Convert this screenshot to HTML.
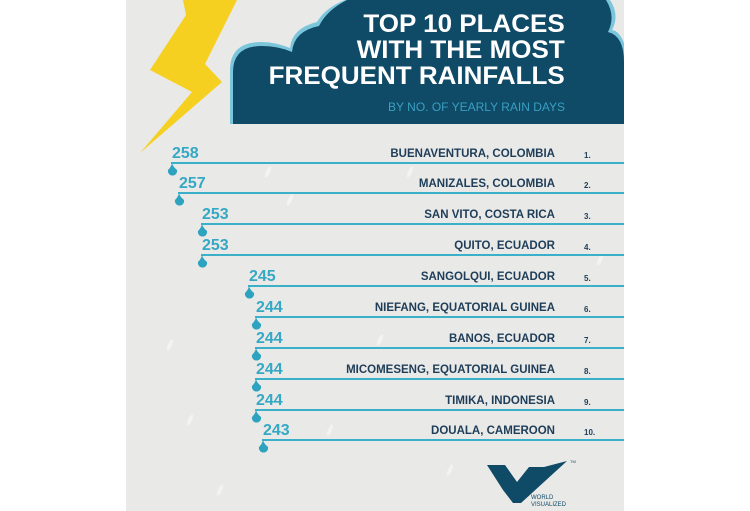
<!DOCTYPE html>
<html><head><meta charset="utf-8"><style>
body{margin:0;width:750px;height:511px;background:#fff;position:relative;overflow:hidden;font-family:"Liberation Sans",sans-serif}
#panel{position:absolute;left:126px;top:0;width:498px;height:511px;background:#e9e9e8}
.t{position:absolute;font-weight:bold;white-space:nowrap}
</style></head><body>
<div id="panel"></div>
<svg width="750" height="511" style="position:absolute;left:0;top:0">
<defs><clipPath id="c"><rect x="126" y="0" width="498" height="511"/></clipPath></defs>
<g clip-path="url(#c)">
<g fill="#f4f4f3" opacity="0.9">
<ellipse cx="268" cy="172" rx="2" ry="6" transform="rotate(25 268 172)"/>
<ellipse cx="290" cy="200" rx="2" ry="6" transform="rotate(25 290 200)"/>
<ellipse cx="410" cy="172" rx="2" ry="6" transform="rotate(25 410 172)"/>
<ellipse cx="380" cy="340" rx="2" ry="6" transform="rotate(25 380 340)"/>
<ellipse cx="170" cy="345" rx="2" ry="6" transform="rotate(25 170 345)"/>
<ellipse cx="190" cy="420" rx="2" ry="6" transform="rotate(25 190 420)"/>
<ellipse cx="330" cy="430" rx="2" ry="6" transform="rotate(25 330 430)"/>
<ellipse cx="450" cy="470" rx="2" ry="6" transform="rotate(25 450 470)"/>
<ellipse cx="220" cy="490" rx="2" ry="6" transform="rotate(25 220 490)"/>
<ellipse cx="600" cy="260" rx="2" ry="6" transform="rotate(25 600 260)"/>
</g>
<path d="M230,124 L230,70 Q230,42 262,42 Q275,42 290,48 Q292,28 317,22 Q325,8 345,0 L610,0 Q620,15 612,30 Q624,32 628,60 L628,124 Z" fill="#7cc6dc"/>
<path d="M233,124 L233,72 Q233,46 262,46 Q278,46 292,52 Q294,31 319,26 Q327,10 347,0 L606,0 Q616,16 608,32 Q624,36 624,62 L624,124 Z" fill="#0f4a66"/>
<polygon points="183,0 237,0 205,64 222,82 140,153 192,92 150,70 186,15" fill="#f6d020"/>
</g>
</svg>
<div class="t" style="right:185px;top:11px;font-size:25px;line-height:26px;color:#fff;text-align:right;transform:scaleX(1.04);transform-origin:right">TOP 10 PLACES<br>WITH THE MOST<br>FREQUENT RAINFALLS</div>
<div class="t" style="right:185px;top:100px;font-size:12px;color:#3a9fc2;font-weight:normal">BY NO. OF YEARLY RAIN DAYS</div>
<div id="rows"></div>
<svg width="750" height="511" style="position:absolute;left:0;top:0">
<polygon points="487,465 505,465 517,482 529,467 544,467 567,461 521,503 513,503 503,490" fill="#0f4a66"/>
<text x="570" y="463" font-size="4" fill="#0f4a66">TM</text>
<text x="531" y="499" font-size="6" fill="#0f4a66" font-family="Liberation Sans">WORLD</text>
<text x="531" y="506" font-size="6" fill="#0f4a66" font-family="Liberation Sans">VISUALIZED</text>
</svg>
<script>
var d=[[258,"BUENAVENTURA, COLOMBIA",171,163],[257,"MANIZALES, COLOMBIA",178,193],[253,"SAN VITO, COSTA RICA",201,224],[253,"QUITO, ECUADOR",201,255],[245,"SANGOLQUI, ECUADOR",248,286],[244,"NIEFANG, EQUATORIAL GUINEA",255,317],[244,"BANOS, ECUADOR",255,348],[244,"MICOMESENG, EQUATORIAL GUINEA",255,379],[244,"TIMIKA, INDONESIA",255,410],[243,"DOUALA, CAMEROON",262,440]];
var h='';
d.forEach(function(r,i){var x=r[2],y=r[3];
h+='<div style="position:absolute;left:'+x+'px;top:'+(y-1)+'px;width:'+(624-x)+'px;height:2px;background:#3bb0c9"></div>';
h+='<svg width="12" height="16" style="position:absolute;left:'+(x-4)+'px;top:'+(y-1)+'px"><path d="M5,0 Q5,4 10,8 A4.6,4.6 0 1 1 1,8 Q5,4 5,0Z" fill="#2ea3c0"/></svg>';
h+='<div class="t" style="left:'+(x+1)+'px;top:'+(y-18)+'px;font-size:16px;color:#35a8c4">'+r[0]+'</div>';
h+='<div class="t" style="right:195px;top:'+(y-15)+'px;font-size:11.5px;color:#1e3d58">'+r[1]+'</div>';
h+='<div class="t" style="left:584px;top:'+(y-12)+'px;font-size:8px;color:#1e3d58">'+(i+1)+'.</div>';
});
document.getElementById('rows').innerHTML=h;
</script>
</body></html>
